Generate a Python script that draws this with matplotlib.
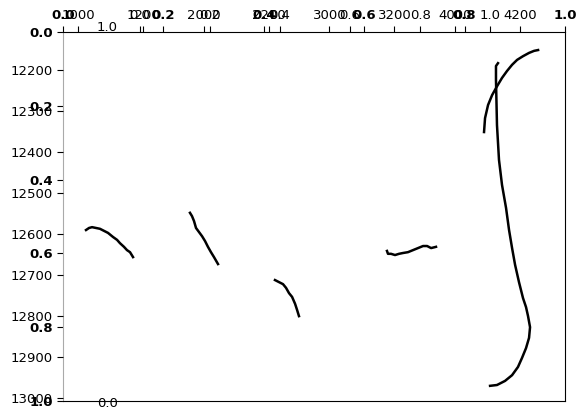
import numpy as np
import matplotlib
matplotlib.use("Agg")
import matplotlib.pyplot as plt

# depth track data (value, depth)
seg1_val = [1064, 1088, 1112, 1144, 1175, 1207, 1239, 1279, 1311, 1334, 1366, 1390, 1414, 1438]
seg1_depth = [12591, 12586, 12584, 12586, 12588, 12593, 12598, 12608, 12615, 12623, 12632, 12640, 12645, 12657]

seg2_val = [1891, 1907, 1923, 1939, 1963, 1987, 2011, 2034, 2058, 2082, 2114]
seg2_depth = [12549, 12557, 12569, 12586, 12596, 12606, 12618, 12632, 12645, 12657, 12674]

seg3_val = [2567, 2599, 2631, 2655, 2679, 2703, 2727, 2743, 2758]
seg3_depth = [12713, 12718, 12723, 12732, 12745, 12754, 12771, 12786, 12801]

seg4_val = [3458, 3466, 3490, 3522, 3554, 3586, 3625, 3665, 3705, 3745, 3777, 3809, 3848]
seg4_depth = [12642, 12649, 12649, 12652, 12649, 12647, 12645, 12640, 12635, 12630, 12630, 12635, 12632]

seg5_val = [4660, 4628, 4588, 4540, 4493, 4453, 4413, 4373, 4334, 4294, 4262, 4238, 4230]
seg5_depth = [12152, 12154, 12159, 12167, 12176, 12188, 12203, 12220, 12240, 12262, 12286, 12318, 12352]

seg6_val = [4341, 4325, 4325, 4333, 4349, 4373, 4405, 4429, 4453, 4477, 4508, 4540, 4564,
            4580, 4596, 4588, 4564, 4532, 4500, 4453, 4397, 4333, 4278]
seg6_depth = [12184, 12191, 12225, 12335, 12420, 12481, 12537, 12591, 12635, 12676, 12718, 12757, 12779,
              12801, 12828, 12854, 12879, 12903, 12925, 12945, 12959, 12969, 12971]

unit_ticks = [0.0, 0.2, 0.4, 0.6, 0.8, 1.0]
depth_ticks = [12200, 12300, 12400, 12500, 12600, 12700, 12800, 12900, 13000]
val_ticks = [1000, 2000, 3000, 4000]
val2_ticks = [1200, 2200, 3200, 4200]

FS = 9.5
rect = [63 / 581, 1 - 401 / 418, (565 - 63) / 581, (401 - 32) / 418]

fig = plt.figure(figsize=(5.81, 4.18), dpi=100)

# host axes, 0..1 on both sides
ax = fig.add_axes(rect)
ax.set_xlim(0, 1)
ax.set_ylim(1, 0)
ax.xaxis.tick_top()
ax.set_xticks(unit_ticks)
ax.set_yticks(unit_ticks)
ax.set_xticklabels([f"{t:.1f}" for t in unit_ticks], fontweight="bold", fontsize=FS)
ax.set_yticklabels([f"{t:.1f}" for t in unit_ticks], fontweight="bold", fontsize=FS)
ax.spines["left"].set_color("#aaaaaa")
ax.tick_params(length=4, width=0.8)

# extra scale axes on top
ax_c = fig.add_axes(rect, frameon=False)
ax_c.set_xlim(564, 4557)
ax_c.xaxis.tick_top()
ax_c.set_xticks(val2_ticks)
ax_c.set_xticklabels([str(t) for t in val2_ticks], fontsize=FS)
ax_c.set_yticks([])
ax_c.tick_params(length=4, width=0.8)

ax_u = fig.add_axes(rect, frameon=False)
ax_u.set_xlim(-0.22, 1.214)
ax_u.xaxis.tick_top()
ax_u.set_xticks(unit_ticks)
ax_u.set_xticklabels([f"{t:.1f}" for t in unit_ticks], fontsize=FS)
ax_u.set_yticks([])
ax_u.tick_params(length=4, width=0.8)

# data axes: value on top, depth on left
ax_d = fig.add_axes(rect, frameon=False)
ax_d.set_xlim(881, 4874)
ax_d.set_ylim(13008, 12108)
ax_d.xaxis.tick_top()
ax_d.set_xticks(val_ticks)
ax_d.set_xticklabels([str(t) for t in val_ticks], fontsize=FS)
ax_d.set_yticks(depth_ticks)
ax_d.set_yticklabels([str(t) for t in depth_ticks], fontsize=FS)
ax_d.tick_params(length=4, width=0.8)

for xs, ds in [(seg1_val, seg1_depth), (seg2_val, seg2_depth), (seg3_val, seg3_depth),
               (seg4_val, seg4_depth), (seg5_val, seg5_depth), (seg6_val, seg6_depth)]:
    ax_d.plot(xs, ds, color="black", lw=1.8)

ax.text(0.088, 1.011, "1.0", transform=ax.transAxes, fontsize=FS, ha="center", va="center")
ax.text(0.088, -0.008, "0.0", transform=ax.transAxes, fontsize=FS, ha="center", va="center")

fig.savefig("out.png", dpi=100)
